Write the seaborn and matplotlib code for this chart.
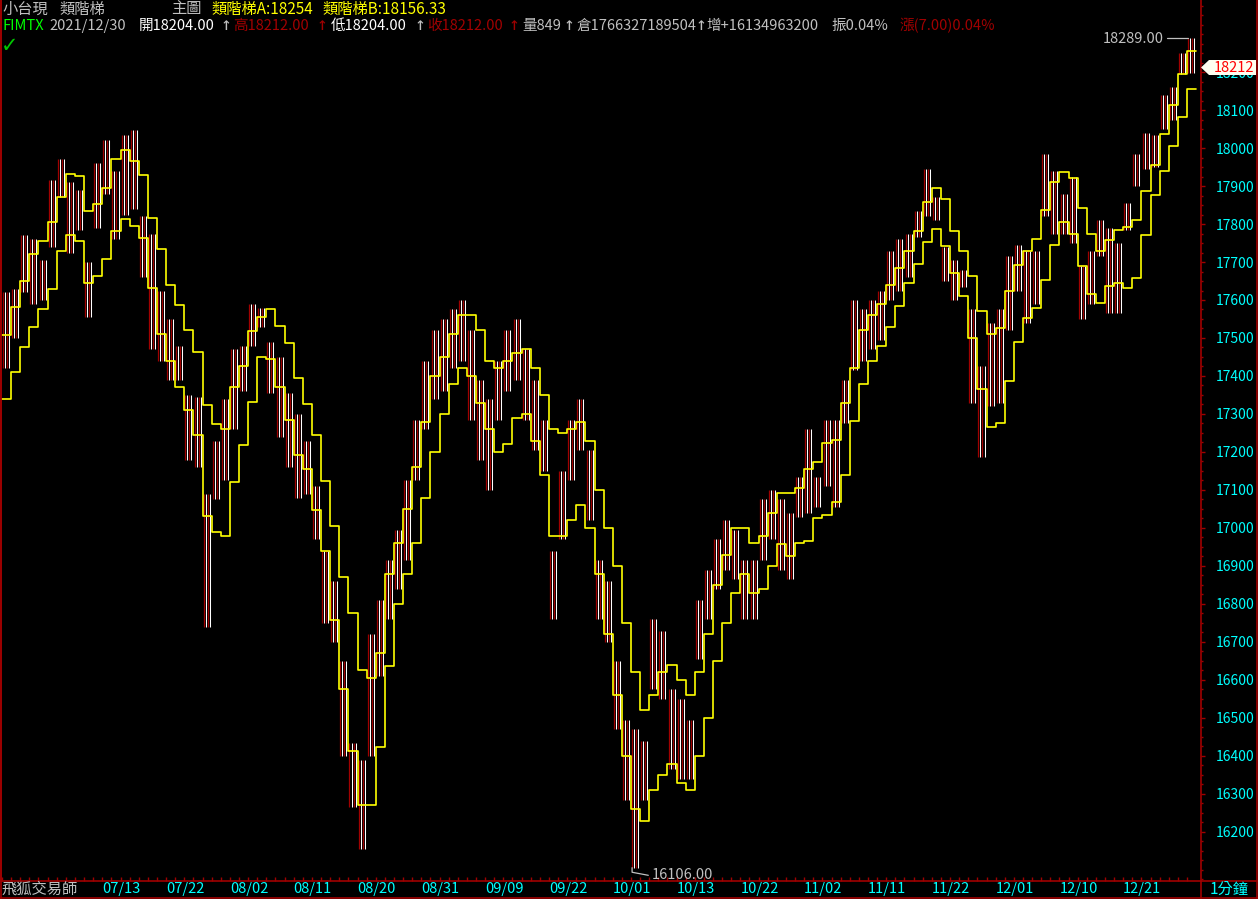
import seaborn as sns
import matplotlib.pyplot as plt
from matplotlib.patches import Polygon
from matplotlib.lines import Line2D
from matplotlib.ticker import MultipleLocator, FixedLocator

# 小台現 daily ranges, 2021/06/28 .. 2021/12/30 (131 trading days)
hi = [17620, 17630, 17770, 17760, 17705, 17915, 17970, 17910, 17890, 17700,
      17960, 18020, 17940, 18035, 18047, 17820, 17775, 17625, 17550, 17480,
      17350, 17345, 17090, 17230, 17340, 17470, 17480, 17590, 17580, 17490,
      17450, 17355, 17300, 17230, 17110, 16940, 16860, 16650, 16435, 16390,
      16720, 16810, 16915, 16995, 17125, 17285, 17440, 17520, 17550, 17575,
      17600, 17520, 17390, 17340, 17440, 17520, 17550, 17470, 17390, 17285,
      16940, 17150, 17285, 17340, 17205, 16915, 16860, 16650, 16495, 16470,
      16440, 16760, 16730, 16575, 16550, 16495, 16810, 16890, 16970, 17020,
      16995, 16915, 16915, 17075, 17100, 17075, 17040, 17135, 17260, 17135,
      17285, 17285, 17390, 17600, 17575, 17600, 17625, 17730, 17760, 17775,
      17835, 17945, 17870, 17740, 17705, 17680, 17575, 17425, 17540, 17575,
      17715, 17745, 17730, 17730, 17985, 17940, 17880, 17925, 17690, 17730,
      17810, 17790, 17750, 17855, 17985, 18040, 18035, 18140, 18160, 18250,
      18289]
lo = [17420, 17500, 17620, 17590, 17600, 17740, 17870, 17725, 17785, 17555,
      17790, 17880, 17760, 17825, 17840, 17660, 17470, 17440, 17390, 17390,
      17180, 17160, 16740, 17075, 17125, 17260, 17360, 17480, 17530, 17355,
      17240, 17160, 17080, 17090, 16970, 16750, 16700, 16400, 16265, 16155,
      16400, 16610, 16760, 16840, 16915, 17125, 17260, 17340, 17360, 17420,
      17440, 17285, 17180, 17100, 17285, 17360, 17390, 17285, 17205, 17150,
      16760, 16970, 17125, 17205, 17020, 16760, 16700, 16470, 16285, 16106,
      16285, 16575, 16550, 16365, 16340, 16340, 16655, 16760, 16840, 16890,
      16865, 16760, 16760, 16915, 16970, 16890, 16865, 17030, 17040, 17055,
      17110, 17055, 17275, 17415, 17440, 17470, 17495, 17600, 17625, 17660,
      17765, 17820, 17810, 17650, 17600, 17635, 17330, 17187, 17320, 17330,
      17520, 17625, 17540, 17590, 17820, 17775, 17775, 17750, 17550, 17590,
      17715, 17565, 17565, 17785, 17900, 17945, 17950, 18050, 18075, 18195,
      18197]

# 類階梯A (upper) / 類階梯B (lower)
ladder_a = [17508, 17582, 17650, 17720, 17755, 17806, 17872, 17932, 17926, 17834,
            17853, 17896, 17970, 17995, 17965, 17929, 17817, 17733, 17639, 17587,
            17520, 17463, 17323, 17274, 17260, 17370, 17426, 17518, 17556, 17575,
            17532, 17486, 17396, 17325, 17244, 17123, 17004, 16870, 16775, 16626,
            16604, 16670, 16880, 16960, 17050, 17160, 17280, 17400, 17450, 17510,
            17560, 17560, 17520, 17440, 17420, 17440, 17460, 17470, 17420, 17350,
            17260, 17250, 17260, 17280, 17230, 17100, 17000, 16900, 16750, 16620,
            16520, 16560, 16620, 16640, 16600, 16560, 16620, 16720, 16850, 16930,
            17000, 17000, 16960, 16980, 17040, 17091, 17091, 17104, 17154, 17173,
            17223, 17231, 17328, 17420, 17520, 17560, 17590, 17640, 17685, 17730,
            17782, 17857, 17896, 17865, 17782, 17728, 17662, 17570, 17510, 17525,
            17623, 17691, 17728, 17760, 17838, 17910, 17936, 17920, 17841, 17773,
            17729, 17758, 17784, 17791, 17811, 17887, 17955, 18037, 18113, 18196,
            18254]
ladder_b = [17340, 17410, 17477, 17528, 17576, 17628, 17729, 17771, 17755, 17645,
            17663, 17708, 17781, 17812, 17795, 17762, 17631, 17510, 17440, 17370,
            17310, 17246, 17032, 16989, 16978, 17121, 17218, 17331, 17449, 17446,
            17370, 17284, 17191, 17154, 17047, 16939, 16758, 16575, 16413, 16271,
            16271, 16423, 16637, 16799, 16880, 16960, 17080, 17200, 17300, 17380,
            17420, 17400, 17330, 17260, 17200, 17220, 17290, 17300, 17230, 17140,
            16980, 16980, 17020, 17060, 17000, 16880, 16720, 16560, 16400, 16260,
            16230, 16310, 16350, 16380, 16330, 16310, 16400, 16500, 16650, 16750,
            16830, 16880, 16830, 16840, 16900, 16957, 16926, 16960, 16965, 17025,
            17033, 17068, 17139, 17281, 17380, 17440, 17480, 17530, 17583, 17644,
            17696, 17752, 17786, 17743, 17670, 17610, 17499, 17365, 17267, 17277,
            17386, 17489, 17552, 17578, 17652, 17746, 17805, 17773, 17689, 17616,
            17593, 17638, 17646, 17631, 17657, 17771, 17876, 17939, 18005, 18082,
            18156]

date_days = [11, 18, 25, 32, 39, 46, 53, 60, 67, 74, 81, 88, 95, 102, 109, 116, 123]
date_labels = ['07/13', '07/22', '08/02', '08/11', '08/20', '08/31', '09/09', '09/22',
               '10/01', '10/13', '10/22', '11/02', '11/11', '11/22', '12/01', '12/10', '12/21']
price_ticks = [16200, 16300, 16400, 16500, 16600, 16700, 16800, 16900, 17000, 17100,
               17200, 17300, 17400, 17500, 17600, 17700, 17800, 17900, 18000, 18100, 18200]
last_price = 18212

sns.set_style('dark', {'axes.facecolor': 'black', 'figure.facecolor': 'black'})
plt.rcParams['font.family'] = ['Noto Sans CJK TC', 'DejaVu Sans']

W, H = 1258, 899
RED = '#A00000'
CYAN = '#00FFFF'
GRAY = '#C0C0C0'
YEL = '#FFFF00'

def fx(px):
    return px / W

def fy(py):
    return 1 - py / H

fig = plt.figure(figsize=(W / 100, H / 100), dpi=100, facecolor='black')
ax = fig.add_axes([fx(1), fy(881), 1200 / W, 881 / H])
ax.set_facecolor('black')

n = len(hi)
days = list(range(n))

# candles: mixed dark red / white strokes over each day's range
for off, col, lw in [(0.12, RED, 0.9), (0.34, 'white', 0.75), (0.56, RED, 0.9), (0.78, 'white', 0.75)]:
    ax.vlines([d + off for d in days], lo, hi, colors=col, linewidth=lw, zorder=2)

# ladders (step lines)
steps_x = days + [n]
sns.lineplot(x=steps_x, y=ladder_a + [ladder_a[-1]], drawstyle='steps-post',
             color=YEL, linewidth=1.2, ax=ax, zorder=3)
sns.lineplot(x=steps_x, y=ladder_b + [ladder_b[-1]], drawstyle='steps-post',
             color=YEL, linewidth=1.2, ax=ax, zorder=3)

ax.set_xlim(-0.11, 131.53)
ax.set_ylim(16071, 18389.5)

# max / min markers
imax = hi.index(max(hi))
imin = lo.index(min(lo))
ax.plot([imax + 0.1, imax - 2.25], [hi[imax], hi[imax]], color=GRAY, lw=0.9, zorder=4)
ax.text(imax - 2.6, hi[imax] - 3, f'{hi[imax]:.2f}', color=GRAY, fontsize=10.5,
        ha='right', va='center')
ax.plot([imin + 0.12, imin + 0.12, imin + 1.9], [lo[imin], lo[imin] - 12, lo[imin] - 20],
        color=GRAY, lw=0.9, zorder=4)
ax.text(imin + 2.3, lo[imin] - 20, f'{lo[imin]:.2f}', color=GRAY, fontsize=10.5,
        ha='left', va='center')

# axes styling
ax.yaxis.tick_right()
ax.set_yticks(price_ticks)
ax.set_yticklabels([str(p) for p in price_ticks])
ax.yaxis.set_minor_locator(MultipleLocator(25))
ax.tick_params(axis='y', which='major', colors=RED, labelcolor=CYAN, length=3, width=1,
               pad=7.5, labelsize=10, direction='out', right=True, left=False)
ax.tick_params(axis='y', which='minor', colors=RED, length=1.5, width=1, direction='out',
               right=True, left=False)
ax.set_xticks(date_days)
ax.set_xticklabels(date_labels, ha='left')
ax.xaxis.set_minor_locator(FixedLocator(days))
ax.tick_params(axis='x', which='major', colors=RED, labelcolor=CYAN, length=3, width=1,
               pad=0.5, labelsize=10.5, direction='in', bottom=True)
ax.tick_params(axis='x', which='minor', colors=RED, length=3, width=1, direction='in',
               bottom=True)
ax.set_xlabel('')
ax.set_ylabel('')
ax.grid(False)
for side in ['left', 'right', 'bottom']:
    ax.spines[side].set_visible(True)
    ax.spines[side].set_color(RED)
    ax.spines[side].set_linewidth(1.2)
ax.spines['top'].set_visible(False)

# frame lines outside the axes
for (x0, y0, x1, y1) in [(0.5, 0, 0.5, 899), (0, 897.5, 1258, 897.5), (1256.5, 0, 1256.5, 899),
                         (1201, 881, 1258, 881), (1201, 881, 1201, 899)]:
    fig.add_artist(Line2D([fx(x0), fx(x1)], [fy(y0), fy(y1)], color=RED, lw=1.2))

# last price tag
tag = Polygon([(fx(1201), fy(67.5)), (fx(1209), fy(60)), (fx(1256), fy(60)),
               (fx(1256), fy(75)), (fx(1209), fy(75))], closed=True,
              facecolor='#FFFFF0', edgecolor='none', transform=fig.transFigure, zorder=10)
fig.add_artist(tag)
fig.text(fx(1254), fy(67.5), str(last_price), color='#FF0000', fontsize=10.5,
         ha='right', va='center', zorder=11)

# header
hdr1 = [(2, '小台現', GRAY), (59, '類階梯', GRAY), (171, '主圖', GRAY),
        (211, '類階梯A:18254', YEL), (322, '類階梯B:18156.33', YEL)]
for x, s, c in hdr1:
    fig.text(fx(x), fy(9), s, color=c, fontsize=11, ha='left', va='center')
hdr2 = [(2, 'FIMTX', '#00FF00'), (49, '2021/12/30', GRAY), (139, '開18204.00', 'white'),
        (233, '高18212.00', RED), (331, '低18204.00', 'white'), (427, '收18212.00', RED),
        (522, '量849', GRAY), (576, '倉1766327189504', GRAY), (706, '增+16134963200', GRAY),
        (831, '振0.04%', GRAY), (899, '漲(7.00)0.04%', RED)]
for x, s, c in hdr2:
    fig.text(fx(x), fy(26), s, color=c, fontsize=10.5, ha='left', va='center')
arrows = [(221, GRAY), (317, RED), (415, GRAY), (509, RED), (564, GRAY), (696, GRAY)]
for x, c in arrows:
    fig.text(fx(x), fy(25), '↑', color=c, fontsize=13, ha='left', va='center',
             family=['DejaVu Sans Mono'])
fig.text(fx(1), fy(46), '✓', color='#00C800', fontsize=15, ha='left', va='center',
         family=['DejaVu Sans'], fontweight='bold')

# bottom bar texts
fig.text(fx(1), fy(889), '飛狐交易師', color=GRAY, fontsize=11, ha='left', va='center')
fig.text(fx(1210), fy(889), '1分鐘', color=CYAN, fontsize=11, ha='left', va='center')

fig.savefig('out.png', dpi=100, facecolor='black')
